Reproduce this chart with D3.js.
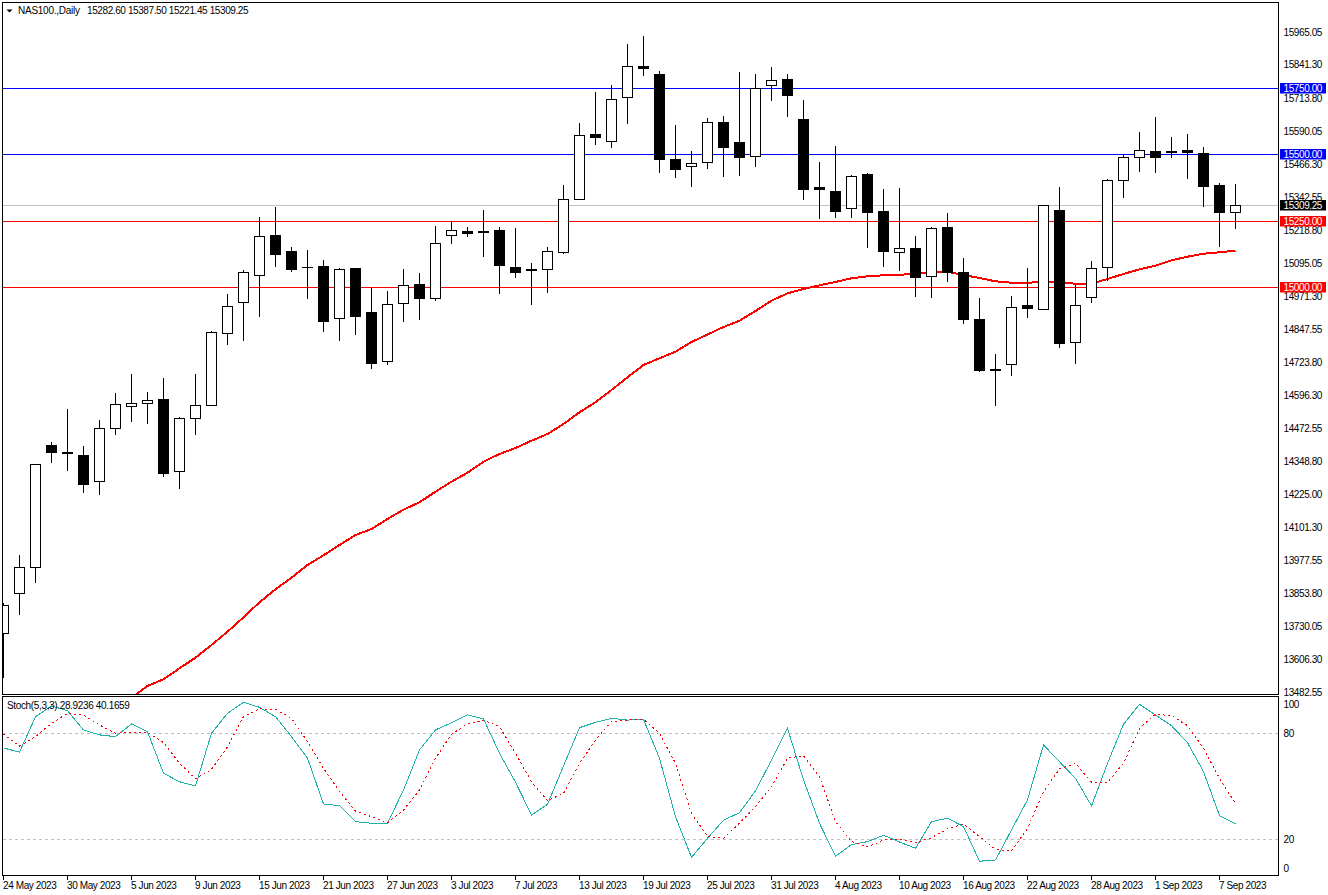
<!DOCTYPE html>
<html>
<head>
<meta charset="utf-8">
<script src="https://cdn.jsdelivr.net/npm/d3@7"></script>
<style>
  html, body { margin: 0; padding: 0; background: #fff; overflow: hidden; }
  svg { display: block; }
  text { font-family: "Liberation Sans", sans-serif; font-size: 10px; fill: #000; }
  .axis text { font-family: "Liberation Sans", sans-serif; font-size: 10px; letter-spacing: -0.4px; fill: #000; }
</style>
</head>
<body>
<div id="chart"></div>
<script>
// daily candles
const open = [13702.95,13852.95,13950.45,14407.95,14381.7,14370.45,14272.95,14471.7,14554.2,14565.45,14580.45,14310.45,14509.2,14557.95,14827.95,14944.2,15045.45,15195.45,15135.45,15075.45,15079.2,14884.2,15071.7,14906.7,14722.95,14940.45,15011.7,14959.2,15195.45,15210.45,15210.45,15214.2,15075.45,15067.95,15067.95,15131.7,15330.45,15574.2,15547.95,15712.95,15829.2,15799.2,15480.45,15454.2,15469.2,15619.2,15544.2,15491.7,15757.95,15780.45,15630.45,15375.45,15360.45,15296.7,15424.2,15285.45,15131.7,15146.7,15041.7,15225.45,15056.7,14880.45,14692.95,14711.7,14932.95,14917.95,15289.2,14794.2,14962.95,15075.45,15401.7,15487.95,15510.45,15510.45,15514.2,15502.95,15382.95,15282.6];
const high = [13815.45,13995.45,14336.7,14419.2,14542.95,14404.2,14501.7,14602.95,14674.2,14606.7,14659.2,14512.95,14674.2,14835.45,14974.2,15064.2,15262.95,15300.45,15150.45,15139.2,15101.7,15071.7,15071.7,14996.7,14985.45,15067.95,15052.95,15229.2,15247.95,15225.45,15289.2,15225.45,15221.7,15090.45,15150.45,15382.95,15615.45,15731.7,15757.95,15911.7,15941.7,15810.45,15607.95,15510.45,15634.2,15641.7,15806.7,15799.2,15825.45,15799.2,15701.7,15469.2,15529.2,15420.45,15427.95,15367.95,15371.7,15191.7,15225.45,15277.95,15109.2,14959.2,14749.2,14966.7,15071.7,15307.95,15375.45,15007.95,15097.95,15405.45,15499.2,15581.7,15637.95,15562.95,15574.2,15525.45,15390.45,15387.5];
const low = [13537.95,13774.2,13894.2,14344.2,14314.2,14231.7,14224.2,14449.2,14497.95,14490.45,14291.7,14246.7,14449.2,14557.95,14786.7,14801.7,14891.7,15079.2,15060.45,14959.2,14835.45,14801.7,14824.2,14696.7,14711.7,14872.95,14880.45,14951.7,15165.45,15191.7,15116.7,14977.95,15037.95,14936.7,14981.7,15127.95,15330.45,15536.7,15525.45,15615.45,15795.45,15431.7,15412.95,15379.2,15446.7,15416.7,15420.45,15454.2,15701.7,15641.7,15330.45,15259.2,15262.95,15262.95,15150.45,15079.2,15064.2,14966.7,14962.95,15022.95,14865.45,14685.45,14557.95,14670.45,14887.95,14917.95,14775.45,14715.45,14944.2,15026.7,15337.95,15435.45,15431.7,15487.95,15409.2,15304.2,15154.2,15221.45];
const close = [13807.95,13950.45,14336.7,14381.7,14377.95,14261.7,14471.7,14561.7,14565.45,14576.7,14302.95,14509.2,14557.95,14831.7,14929.2,15056.7,15191.7,15124.2,15067.95,15075.45,14872.95,15067.95,14891.7,14715.45,14936.7,15007.95,14959.2,15165.45,15214.2,15202.95,15206.7,15082.95,15056.7,15064.2,15135.45,15330.45,15570.45,15562.95,15705.45,15829.2,15821.7,15480.45,15442.95,15465.45,15619.2,15525.45,15487.95,15746.7,15776.7,15720.45,15367.95,15367.95,15285.45,15416.7,15281.7,15135.45,15146.7,15037.95,15221.7,15056.7,14880.45,14689.2,14689.2,14925.45,14921.7,15307.95,14790.45,14932.95,15071.7,15401.7,15487.95,15514.2,15487.95,15506.7,15506.7,15379.2,15281.7,15309.25];

// red moving average, first value sits at candle index 8
const maStart = 8;
const maValues = [13461.1,13506.1,13531.2,13572.5,13612.2,13659.9,13709.7,13763.7,13820.0,13868.7,13912.2,13959.9,13996.2,14034.9,14072.4,14094.9,14132.4,14167.2,14195.0,14234.7,14272.2,14306.0,14347.2,14376.1,14398.6,14426.0,14451.1,14488.6,14532.5,14570.0,14616.1,14663.7,14709.9,14735.0,14759.7,14796.1,14824.2,14852.4,14876.0,14912.4,14951.0,14978.7,14994.9,15008.7,15021.1,15035.0,15042.5,15046.2,15048.5,15051.1,15057.5,15059.7,15047.4,15036.1,15023.7,15018.5,15018.5,15021.1,15020.0,15014.7,15014.7,15032.4,15051.1,15068.7,15082.2,15102.5,15116.0,15127.2,15132.5,15138.5];

// stochastic pane
const stochMain = [71.7,69.4,89.4,95.5,92.8,81.9,79.1,78.1,85.3,80.9,57.4,52.6,50.2,80.0,91.3,97.6,94.7,89.4,78.1,65.9,40.0,39.0,30.0,29.1,29.1,47.9,70.6,81.9,86.0,90.4,88.1,68.7,52.3,33.8,39.8,61.5,83.2,86.2,88.5,87.5,87.9,65.9,32.8,9.8,20.6,30.8,35.1,47.4,64.9,82.8,53.6,29.1,10.4,17.0,18.7,22.3,18.5,14.9,30.0,31.9,27.2,7.6,8.3,25.3,42.3,73.4,63.9,54.5,38.9,63.0,85.1,96.4,90.4,84.3,74.7,58.3,33.4,28.92];
const stochSignal = [79.6,72.8,78.1,85.7,91.3,90.4,84.7,80.0,80.6,80.6,74.7,63.0,54.2,59.6,72.4,89.4,93.8,93.6,88.5,75.3,60.2,47.0,36.0,32.8,29.4,36.6,47.9,65.9,79.4,85.3,87.5,83.7,68.7,52.6,41.9,46.0,63.0,76.2,86.6,87.5,87.9,80.0,63.0,34.7,21.7,20.6,29.1,38.5,49.8,65.9,67.3,55.5,30.0,18.7,15.7,19.6,20.0,18.1,20.9,25.9,28.7,21.5,14.3,13.4,26.2,47.0,59.8,63.0,52.3,52.3,63.0,82.8,90.8,90.0,84.3,71.5,54.5,40.17];

// axis labels
const priceTicks = [15965.05,15841.30,15713.80,15590.05,15466.30,15342.55,15218.80,15095.05,14971.30,14847.55,14723.80,14596.30,14472.55,14348.80,14225.00,14101.30,13977.55,13853.80,13730.05,13606.30,13482.55];
const dateLabels = ["24 May 2023","30 May 2023","5 Jun 2023","9 Jun 2023","15 Jun 2023","21 Jun 2023","27 Jun 2023","3 Jul 2023","7 Jul 2023","13 Jul 2023","19 Jul 2023","25 Jul 2023","31 Jul 2023","4 Aug 2023","10 Aug 2023","16 Aug 2023","22 Aug 2023","28 Aug 2023","1 Sep 2023","7 Sep 2023"];
const stochTicks = [100,80,20,0];
const stochLevels = [80,20];

// horizontal price lines and their tags on the right
const levelValues = [15750,15500,15250,15000];
const levelColors = ["#0000ff","#0000ff","#ff0000","#ff0000"];
const lastPrice = 15309.25;

const width = 1328, height = 895;
const left = 2.5, right = 1278.5, mainTop = 2.5, mainBottom = 694.5, stochTop = 696.5, stochBottom = 875.5;

const x = d3.scaleLinear().domain([0, 77]).range([3.5, 1235.5]);
const y = d3.scaleLinear().domain([13482.55, 15965.05]).range([692.28, 30.28]);
// the terminal's labels and levels run on a slightly different pixel step than the candles read out
const yLabels = d3.scaleLinear().domain([13482.55, 15965.05]).range([692.3, 32.3]);
const yLevel = d3.scaleLinear().domain([15000, 15750]).range([287.5, 88.5]);
const yStoch = d3.scaleLinear().domain([0, 100]).range([874.67, 697.97]);

const svg = d3.select("#chart").append("svg").attr("width", width).attr("height", height);

// clip marks to the panes
svg.append("clipPath").attr("id", "clipMain").append("rect")
  .attr("x", left).attr("y", mainTop).attr("width", right - left).attr("height", mainBottom - mainTop);
svg.append("clipPath").attr("id", "clipStoch").append("rect")
  .attr("x", left).attr("y", stochTop).attr("width", right - left).attr("height", stochBottom - stochTop);

const main = svg.append("g").attr("clip-path", "url(#clipMain)").attr("shape-rendering", "crispEdges");

const row = v => Math.floor(y(v));
const levelRow = v => Math.floor(yLevel(v));

// last price line
main.append("line")
  .attr("x1", left).attr("x2", right)
  .attr("y1", row(lastPrice) + 0.5).attr("y2", row(lastPrice) + 0.5)
  .attr("stroke", "#c0c0c0");

// support and resistance lines
main.selectAll(".level")
  .data(levelValues)
  .enter()
  .append("line")
  .attr("class", "level")
  .attr("x1", left).attr("x2", right)
  .attr("y1", d => levelRow(d) + 0.5)
  .attr("y2", d => levelRow(d) + 0.5)
  .attr("stroke", (d, i) => levelColors[i]);

// moving average sits behind the candles
const maLine = d3.line().x((d, i) => x(i + maStart)).y(d => y(d));
main.append("path")
  .attr("d", maLine(maValues))
  .attr("fill", "none")
  .attr("stroke", "#ff0000")
  .attr("stroke-width", 2);

// candles
const candles = close.map((d, i) => i);

main.selectAll(".wick")
  .data(candles)
  .enter()
  .append("line")
  .attr("class", "wick")
  .attr("x1", i => x(i)).attr("x2", i => x(i))
  .attr("y1", i => row(high[i]))
  .attr("y2", i => row(low[i]) + 1)
  .attr("stroke", "#000");

main.selectAll(".body")
  .data(candles)
  .enter()
  .append("rect")
  .attr("class", "body")
  .attr("x", i => x(i) - 5.5)
  .attr("width", 11)
  .attr("y", i => row(Math.max(open[i], close[i])))
  .attr("height", i => row(Math.min(open[i], close[i])) - row(Math.max(open[i], close[i])) + 1)
  .attr("fill", "#000");

// bull candles get a white inside
main.selectAll(".inner")
  .data(candles.filter(i => close[i] > open[i]))
  .enter()
  .append("rect")
  .attr("class", "inner")
  .attr("x", i => x(i) - 4.5)
  .attr("width", 9)
  .attr("y", i => row(close[i]) + 1)
  .attr("height", i => Math.max(0, row(open[i]) - row(close[i]) - 1))
  .attr("fill", "#fff");

// stochastic pane
const stoch = svg.append("g").attr("clip-path", "url(#clipStoch)").attr("shape-rendering", "crispEdges");

stoch.selectAll(".stochLevel")
  .data(stochLevels)
  .enter()
  .append("line")
  .attr("class", "stochLevel")
  .attr("x1", left).attr("x2", right)
  .attr("y1", d => Math.floor(yStoch(d)) + 0.5)
  .attr("y2", d => Math.floor(yStoch(d)) + 0.5)
  .attr("stroke", "#c0c0c0")
  .attr("stroke-dasharray", "3,3");

const stochLine = d3.line().x((d, i) => x(i)).y(d => yStoch(d));
stoch.append("path")
  .attr("d", stochLine(stochMain))
  .attr("fill", "none")
  .attr("stroke", "#20b2aa");
stoch.append("path")
  .attr("d", stochLine(stochSignal))
  .attr("fill", "none")
  .attr("stroke", "#ff0000")
  .attr("stroke-dasharray", "2,3");

// axes
const priceAxis = d3.axisRight(yLabels).tickValues(priceTicks).tickFormat(d3.format(".2f")).tickSize(0).tickPadding(5).offset(0);
svg.append("g")
  .attr("class", "axis")
  .attr("transform", `translate(${right},0)`)
  .call(priceAxis)
  .call(g => g.select(".domain").remove());

const dateAxis = d3.axisBottom(x)
  .tickValues(dateLabels.map((d, i) => i * 4))
  .tickFormat((d, i) => dateLabels[i])
  .tickSize(4).tickPadding(2).offset(0);
svg.append("g")
  .attr("class", "axis")
  .attr("transform", `translate(0,${stochBottom})`)
  .attr("shape-rendering", "crispEdges")
  .call(dateAxis)
  .call(g => g.select(".domain").remove())
  .call(g => g.selectAll(".tick text").attr("text-anchor", "start").attr("x", -0.5));

// 100 and 0 are pushed inside the pane like the terminal does
svg.selectAll(".stochTick")
  .data(stochTicks)
  .enter()
  .append("text")
  .attr("class", "stochTick")
  .attr("x", 1283.5)
  .attr("y", d => Math.min(868, Math.max(704, yStoch(d))))
  .attr("dy", "0.35em")
  .style("letter-spacing", "-0.4px")
  .text(d => d);

// price tags
const tagValues = levelValues.concat([lastPrice]);
const tagColors = levelColors.concat(["#000000"]);
const tagRow = d => d === lastPrice ? row(d) : levelRow(d);
const tags = svg.append("g");
tags.selectAll("rect")
  .data(tagValues)
  .enter()
  .append("rect")
  .attr("x", 1280)
  .attr("width", 46)
  .attr("y", d => tagRow(d) - 5)
  .attr("height", 10.5)
  .attr("fill", (d, i) => tagColors[i]);
tags.selectAll("text")
  .data(tagValues)
  .enter()
  .append("text")
  .attr("x", 1283.5)
  .attr("y", d => tagRow(d))
  .attr("dy", "0.35em")
  .style("fill", "#fff")
  .style("letter-spacing", "-0.4px")
  .text(d => d3.format(".2f")(d));

// pane borders
const frame = svg.append("g").attr("shape-rendering", "crispEdges").attr("stroke", "#000").attr("fill", "none");
frame.append("rect").attr("x", left).attr("y", mainTop).attr("width", right - left).attr("height", mainBottom - mainTop);
frame.append("rect").attr("x", left).attr("y", stochTop).attr("width", right - left).attr("height", stochBottom - stochTop);

// headers
svg.append("path").attr("d", "M6.5 9.5h6l-3 3z").attr("fill", "#000");
svg.append("text").attr("x", 18).attr("y", 14)
  .style("letter-spacing", "-0.25px")
  .text("NAS100.,Daily");
svg.append("text").attr("x", 87).attr("y", 14)
  .style("letter-spacing", "-0.4px")
  .text("15282.60 15387.50 15221.45 15309.25");
svg.append("text").attr("x", 7).attr("y", 709)
  .style("letter-spacing", "-0.35px")
  .text("Stoch(5,3,3) 28.9236 40.1659");
</script>
</body>
</html>
